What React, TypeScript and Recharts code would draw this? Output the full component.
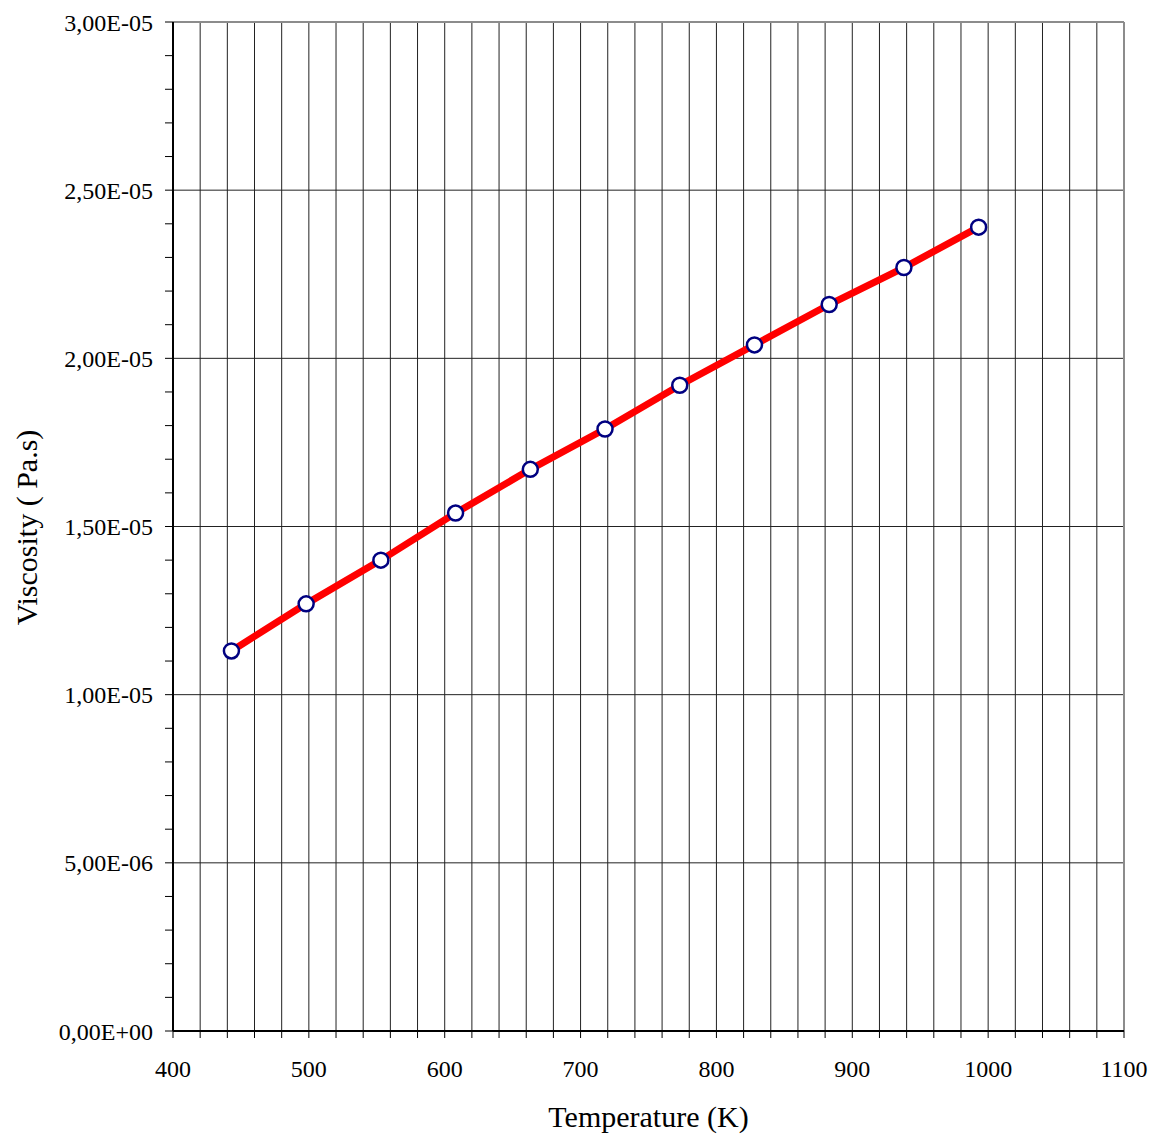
import React from "react";
import {
  LineChart,
  Line,
  XAxis,
  YAxis,
  CartesianGrid,
  ReferenceLine,
} from "recharts";

// Temperature (K) of each measured point
const temperature = [443, 498, 553, 608, 663, 718, 773, 828, 883, 938, 993];
// Viscosity (Pa.s) of each measured point
const viscosity = [
  1.13e-5, 1.27e-5, 1.4e-5, 1.54e-5, 1.67e-5, 1.79e-5, 1.92e-5, 2.04e-5,
  2.16e-5, 2.27e-5, 2.39e-5,
];

// Axis ticks
const xMajorTicks = [400, 500, 600, 700, 800, 900, 1000, 1100];
const xMinorStep = 20;
const yMajorTicks = [0, 5e-6, 1e-5, 1.5e-5, 2e-5, 2.5e-5, 3e-5];
const yMinorStep = 1e-6;

const xTitle = "Temperature (K)";
const yTitle = "Viscosity ( Pa.s)";

const FONT = '"Liberation Serif", "Times New Roman", serif';

const data = temperature.map((t, i) => ({ t, v: viscosity[i] }));

const xTicks: number[] = [];
for (let i = 0; i <= (xMajorTicks[xMajorTicks.length - 1] - xMajorTicks[0]) / xMinorStep; i++) {
  xTicks.push(xMajorTicks[0] + i * xMinorStep);
}
const yTicks: number[] = [];
for (let i = 0; i <= Math.round(yMajorTicks[yMajorTicks.length - 1] / yMinorStep); i++) {
  yTicks.push(Number((i * yMinorStep).toPrecision(6)));
}

const fmtSci = (v: number) => {
  const [mant, exp] = v.toExponential(2).split("e");
  const e = parseInt(exp, 10);
  const sign = e < 0 ? "-" : "+";
  const ee = String(Math.abs(e)).padStart(2, "0");
  return `${mant.replace(".", ",")}E${sign}${ee}`;
};

const xFmt = (v: number) => (xMajorTicks.includes(v) ? String(v) : "");
const yFmt = (v: number) =>
  yMajorTicks.some((m) => Math.abs(m - v) < 1e-10) ? fmtSci(v) : "";

export default function App() {
  return (
    <div style={{ position: "absolute", left: 0, top: 0 }}>
      <LineChart
        width={1152}
        height={1135}
        data={data}
        margin={{ top: 22, right: 28, bottom: 0, left: 0 }}
      >
        <CartesianGrid
          stroke="#222"
          strokeWidth={1}
          horizontalValues={yMajorTicks}
          verticalValues={xTicks}
        />
        <XAxis
          dataKey="t"
          type="number"
          domain={[400, 1100]}
          ticks={xTicks}
          interval={0}
          tickFormatter={xFmt}
          height={104}
          tickSize={7}
          tickMargin={22}
          axisLine={{ stroke: "#000", strokeWidth: 2 }}
          tickLine={{ stroke: "#000", strokeWidth: 1 }}
          tick={{ fontSize: 24, fill: "#000", fontFamily: FONT }}
          label={{
            content: (props: any) => {
              const vb = props.viewBox || {};
              const cx = vb.x + vb.width / 2;
              return (
                <text
                  x={cx}
                  y={1127}
                  textAnchor="middle"
                  fontSize={30}
                  fontFamily={FONT}
                  fill="#000"
                >
                  {xTitle}
                </text>
              );
            },
          }}
        />
        <YAxis
          dataKey="v"
          type="number"
          domain={[0, 3e-5]}
          ticks={yTicks}
          interval={0}
          tickFormatter={yFmt}
          width={173}
          tickSize={8}
          tickMargin={12}
          axisLine={{ stroke: "#000", strokeWidth: 2 }}
          tickLine={{ stroke: "#000", strokeWidth: 1 }}
          tick={{ fontSize: 24, fill: "#000", fontFamily: FONT }}
          label={{
            content: (props: any) => {
              const vb = props.viewBox || {};
              const cy = vb.y + vb.height / 2 + 1;
              const cx = 37;
              return (
                <text
                  x={cx}
                  y={cy}
                  textAnchor="middle"
                  transform={`rotate(-90 ${cx} ${cy})`}
                  fontSize={30}
                  fontFamily={FONT}
                  fill="#000"
                >
                  {yTitle}
                </text>
              );
            },
          }}
        />
        <ReferenceLine y={3e-5} stroke="#8c8c8c" strokeWidth={2} />
        <ReferenceLine x={1100} stroke="#8c8c8c" strokeWidth={2} />
        <Line
          type="linear"
          dataKey="v"
          stroke="#ff0000"
          strokeWidth={7}
          isAnimationActive={false}
          dot={{ r: 7.5, fill: "#ffffff", stroke: "#000080", strokeWidth: 2.5 }}
          activeDot={false}
        />
      </LineChart>
    </div>
  );
}
